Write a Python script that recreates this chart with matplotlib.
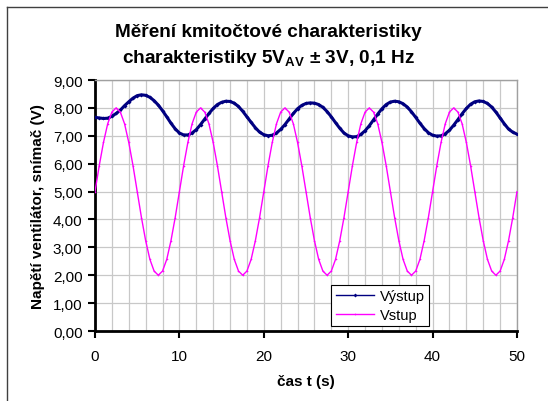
import matplotlib
matplotlib.use("Agg")
import matplotlib.pyplot as plt
from matplotlib.lines import Line2D

plt.rcParams['font.family'] = ['Liberation Sans', 'DejaVu Sans']
plt.rcParams['mathtext.fontset'] = 'custom'
plt.rcParams['mathtext.rm'] = 'Liberation Sans:bold'
plt.rcParams['mathtext.bf'] = 'Liberation Sans:bold'

# cas t (s), krok 0,5 s
cas = [i * 0.5 for i in range(101)]

# Vystup (tmave modra)
vystup = [7.66, 7.64, 7.62, 7.63, 7.70, 7.80, 7.92, 8.08, 8.22, 8.35,
          8.44, 8.47, 8.45, 8.38, 8.26, 8.10, 7.90, 7.68, 7.45, 7.25,
          7.10, 7.03, 7.03, 7.10, 7.22, 7.40, 7.60, 7.80, 7.98, 8.12,
          8.20, 8.24, 8.23, 8.17, 8.05, 7.88, 7.68, 7.48, 7.29, 7.13,
          7.04, 7.00, 7.02, 7.10, 7.23, 7.40, 7.60, 7.80, 7.97, 8.09,
          8.16, 8.18, 8.17, 8.12, 8.02, 7.87, 7.68, 7.47, 7.27, 7.10,
          7.00, 6.96, 6.97, 7.05, 7.18, 7.36, 7.57, 7.78, 7.97, 8.12,
          8.21, 8.24, 8.22, 8.15, 8.03, 7.86, 7.66, 7.45, 7.26, 7.11,
          7.02, 6.99, 7.00, 7.07, 7.20, 7.38, 7.58, 7.79, 7.98, 8.13,
          8.22, 8.25, 8.23, 8.16, 8.03, 7.85, 7.64, 7.43, 7.24, 7.13,
          7.06]

# Vstup (magenta)
vstup = [5.00, 5.93, 6.76, 7.43, 7.85, 8.00, 7.85, 7.43, 6.76, 5.93,
         5.00, 4.07, 3.24, 2.57, 2.15, 2.00, 2.15, 2.57, 3.24, 4.07,
         5.00, 5.93, 6.76, 7.43, 7.85, 8.00, 7.85, 7.43, 6.76, 5.93,
         5.00, 4.07, 3.24, 2.57, 2.15, 2.00, 2.15, 2.57, 3.24, 4.07,
         5.00, 5.93, 6.76, 7.43, 7.85, 8.00, 7.85, 7.43, 6.76, 5.93,
         5.00, 4.07, 3.24, 2.57, 2.15, 2.00, 2.15, 2.57, 3.24, 4.07,
         5.00, 5.93, 6.76, 7.43, 7.85, 8.00, 7.85, 7.43, 6.76, 5.93,
         5.00, 4.07, 3.24, 2.57, 2.15, 2.00, 2.15, 2.57, 3.24, 4.07,
         5.00, 5.93, 6.76, 7.43, 7.85, 8.00, 7.85, 7.43, 6.76, 5.93,
         5.00, 4.07, 3.24, 2.57, 2.15, 2.00, 2.15, 2.57, 3.24, 4.07,
         5.00]

yticks = [0, 1, 2, 3, 4, 5, 6, 7, 8, 9]
ytick_labels = ['0,00', '1,00', '2,00', '3,00', '4,00', '5,00', '6,00', '7,00', '8,00', '9,00']
xticks = [0, 10, 20, 30, 40, 50]

fig = plt.figure(figsize=(5.48, 4.02), dpi=100)
ax = fig.add_axes([0.1734, 0.1741, 0.77, 0.6244])

ax.plot(cas, vystup, color='#000080', lw=2.2, marker='D', ms=2.0, mew=0, label='Výstup', zorder=3)
ax.plot(cas, vstup, color='#FF00FF', lw=1.0, marker='o', ms=1.2, mew=0, label='Vstup', zorder=4)

ax.set_xlim(0, 50)
ax.set_ylim(0, 9)
ax.set_xticks(xticks)
ax.set_xticks(range(0, 51, 2), minor=True)
ax.set_yticks(yticks)
ax.set_yticklabels(ytick_labels)
ax.tick_params(axis='x', which='minor', length=0)
ax.tick_params(axis='both', which='major', direction='out', length=5, width=1.5, labelsize=11)
ax.tick_params(axis='y', which='major', pad=4)
ax.tick_params(axis='x', which='major', pad=8)
ax.grid(True, which='both', color='#c8c8c8', lw=0.9)
ax.set_axisbelow(True)

for s in ['left', 'bottom']:
    ax.spines[s].set_linewidth(2)
    ax.spines[s].set_color('black')
for s in ['top', 'right']:
    ax.spines[s].set_color('#a0a0a0')
    ax.spines[s].set_linewidth(1)

ax.set_xlabel('čas t (s)', fontsize=11, fontweight='bold', labelpad=8)
ax.set_ylabel('Napětí ventilátor, snímač (V)', fontsize=11, fontweight='bold', labelpad=6)

leg = ax.legend(loc='lower left', bbox_to_anchor=(0.56, 0.02), fontsize=10.5, fancybox=False,
                framealpha=1, edgecolor='black', borderpad=0.3, handlelength=2.6,
                handletextpad=0.4, labelspacing=0.3, borderaxespad=0)
leg.get_frame().set_linewidth(0.8)
for h in leg.get_lines():
    h.set_linewidth(1.0)

fig.text(0.489, 0.92, 'Měření kmitočtové charakteristiky', ha='center', va='center',
         fontsize=13.7, fontweight='bold')
fig.text(0.489, 0.855, r'charakteristiky 5V$_{\mathrm{AV}}$ ± 3V, 0,1 Hz', ha='center', va='center',
         fontsize=13.7, fontweight='bold')

# ramecek grafu (Excel)
fig.add_artist(Line2D([7 / 548, 7 / 548], [0, 1 - 8 / 402], color='#404040', lw=1))
fig.add_artist(Line2D([7 / 548, 1], [1 - 8 / 402, 1 - 8 / 402], color='#404040', lw=1))

fig.savefig('out.png', dpi=100)
